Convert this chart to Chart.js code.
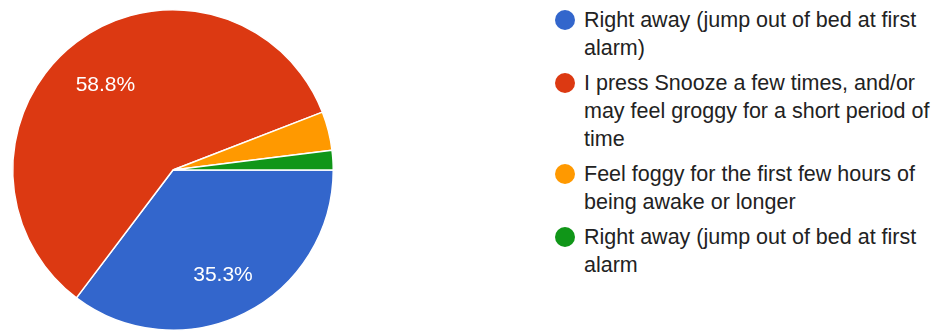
<!DOCTYPE html>
<html>
<head>
<meta charset="utf-8">
<script src="https://cdn.jsdelivr.net/npm/chart.js@4/dist/chart.umd.min.js"></script>
<style>
  html, body { margin: 0; padding: 0; background: #fff; }
  body { width: 937px; height: 331px; position: relative; overflow: hidden; font-family: "Liberation Sans", Arial, sans-serif; }
  #chartBox { position: absolute; left: 0; top: 0; width: 347px; height: 331px; }
  #legend { position: absolute; left: 554px; top: 6px; width: 383px; }
  .item { position: relative; padding-left: 30px; margin-bottom: 7px; font-size: 21.5px; line-height: 28px; color: #222; }
  .dot { position: absolute; left: 1px; top: 4px; width: 20px; height: 20px; border-radius: 50%; }
</style>
</head>
<body>
<div id="chartBox"><canvas id="myChart"></canvas></div>
<div id="legend"></div>
<script>
// answers, one line per array entry (wrapped the way the legend shows them)
const labels = [
  ['Right away (jump out of bed at first', 'alarm)'],
  ['I press Snooze a few times, and/or', 'may feel groggy for a short period of', 'time'],
  ['Feel foggy for the first few hours of', 'being awake or longer'],
  ['Right away (jump out of bed at first', 'alarm']
];
const responses = [18, 30, 2, 1];
const colors = ['#3366cc', '#dc3912', '#ff9900', '#109618'];

// percentage text inside the big slices
const pctLabels = {
  id: 'pctLabels',
  afterDatasetsDraw(chart) {
    const ctx = chart.ctx;
    const meta = chart.getDatasetMeta(0);
    const total = responses.reduce((a, b) => a + b, 0);
    ctx.save();
    ctx.fillStyle = '#fff';
    ctx.font = '21px "Liberation Sans", Arial, sans-serif';
    ctx.textAlign = 'center';
    ctx.textBaseline = 'middle';
    meta.data.forEach((arc, i) => {
      const pct = responses[i] / total * 100;
      if (pct < 10) return;
      const mid = (arc.startAngle + arc.endAngle) / 2;
      const r = arc.outerRadius * 0.7;
      ctx.fillText(pct.toFixed(1) + '%', arc.x + Math.cos(mid) * r, arc.y + Math.sin(mid) * r + 5);
    });
    ctx.restore();
  }
};

const ctx = document.getElementById('myChart').getContext('2d');
const myChart = new Chart(ctx, {
  type: 'pie',
  data: {
    labels: labels,
    datasets: [{
      data: responses,
      backgroundColor: colors,
      borderColor: '#fff',
      borderWidth: 1.5
    }]
  },
  options: {
    responsive: true,
    maintainAspectRatio: false,
    animation: false,
    rotation: 90,
    layout: { padding: { top: 9, bottom: 0, left: 12, right: 13 } },
    events: [],
    plugins: {
      legend: { display: false },
      tooltip: { enabled: false }
    }
  },
  plugins: [pctLabels]
});

// html legend so the long answers can wrap
const legend = document.getElementById('legend');
labels.forEach((lines, i) => {
  const item = document.createElement('div');
  item.className = 'item';
  const dot = document.createElement('span');
  dot.className = 'dot';
  dot.style.background = colors[i];
  item.appendChild(dot);
  lines.forEach((line, j) => {
    if (j > 0) item.appendChild(document.createElement('br'));
    item.appendChild(document.createTextNode(line));
  });
  legend.appendChild(item);
});
</script>
</body>
</html>
